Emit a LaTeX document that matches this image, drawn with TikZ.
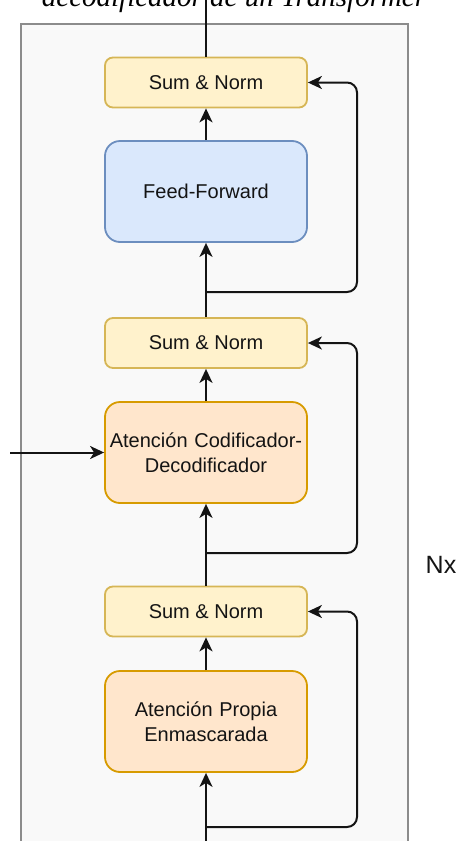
\documentclass[tikz,border=0pt]{standalone}
\usepackage{fontspec}
\setmainfont{Liberation Serif}
\setsansfont{Liberation Sans}
\usetikzlibrary{arrows.meta}

\definecolor{snfill}{HTML}{FFF2CC}
\definecolor{snline}{HTML}{D6B656}
\definecolor{fffill}{HTML}{DAE8FC}
\definecolor{ffline}{HTML}{6C8EBF}
\definecolor{atfill}{HTML}{FFE6CC}
\definecolor{atline}{HTML}{D79B00}
\definecolor{framefill}{HTML}{F9F9F9}
\definecolor{frameline}{HTML}{8C8C8C}
\definecolor{ink}{HTML}{141414}

\tikzset{
  boxtext/.style={font=\sffamily\fontsize{20}{25}\selectfont, text=ink, align=center},
  snbox/.style={boxtext, rounded corners=8pt, fill=snfill, draw=snline, line width=1.8pt,
    minimum width=202pt, minimum height=50pt, inner sep=0pt},
  bigbox/.style={boxtext, rounded corners=15pt, line width=1.8pt,
    minimum width=202pt, minimum height=101pt, inner sep=0pt, text width=200pt},
  ffbox/.style={bigbox, fill=fffill, draw=ffline},
  atbox/.style={bigbox, fill=atfill, draw=atline},
  flow/.style={draw=ink, line width=2pt, -{Stealth[length=14pt,width=13pt,inset=4pt]}},
  plain/.style={draw=ink, line width=2pt},
  res/.style={flow, rounded corners=10pt},
}

\begin{document}
\begin{tikzpicture}[x=1pt, y=-1pt]
  \useasboundingbox (0,0) rectangle (459,841);
  \fill[white] (0,0) rectangle (459,841);
  \clip (0,0) rectangle (459,841);

  % container of the repeated block
  \draw[fill=framefill, draw=frameline, line width=2.4pt] (21,24) rectangle (408,870);

  % caption (second line)
  \node[anchor=base, inner sep=0pt, font=\itshape\fontsize{29}{34}\selectfont] (caption)
    at (234,6.5) {decodificador de un Transformer};

  % blocks
  \node[snbox] (sn1) at (206,82.5) {Sum \& Norm};
  \node[ffbox] (ff)  at (206,191.5) {Feed-Forward};
  \node[snbox] (sn2) at (206,343) {Sum \& Norm};
  \node[atbox] (acd) at (206,452.5) {Atención Codificador-\\Decodificador};
  \node[snbox] (sn3) at (206,611.5) {Sum \& Norm};
  \node[atbox] (ape) at (206,721.5) {Atención Propia\\Enmascarada};

  \node[font=\sffamily\fontsize{25}{30}\selectfont, text=ink, inner sep=0pt] (nx) at (441,565) {Nx};

  % free ends and branch points
  \coordinate (top) at (206,0);
  \coordinate (bot) at (206,841);
  \coordinate (in)  at (10,452.5);
  \coordinate (j1) at (206,292);
  \coordinate (j2) at (206,553);
  \coordinate (j3) at (206,827);

  % main flow
  \draw[flow] (bot) -- (ape.south);
  \draw[flow] (ape.north) -- (sn3.south);
  \draw[flow] (sn3.north) -- (acd.south);
  \draw[flow] (acd.north) -- (sn2.south);
  \draw[flow] (sn2.north) -- (ff.south);
  \draw[flow] (ff.north) -- (sn1.south);
  \draw[plain] (sn1.north) -- (top);
  \draw[flow] (in) -- (acd.west);

  % residual connections
  \draw[res] (j3) -- (357,827) -- (357,611.5) -- (sn3.east);
  \draw[res] (j2) -- (357,553) -- (357,343) -- (sn2.east);
  \draw[res] (j1) -- (357,292) -- (357,82.5) -- (sn1.east);
\end{tikzpicture}
\end{document}
